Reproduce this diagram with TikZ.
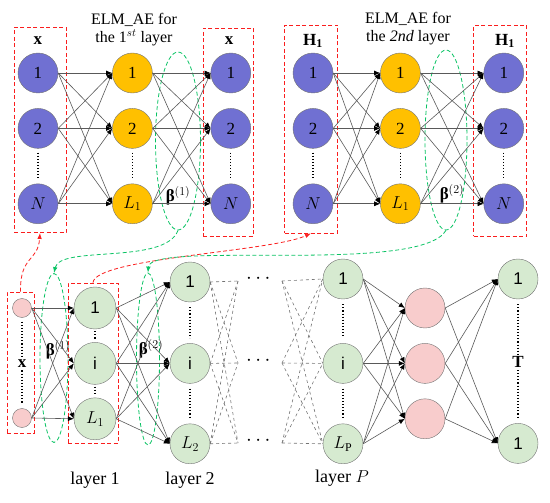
\documentclass[tikz,border=0pt]{standalone}
\usepackage{amsmath}
\usepackage{fontspec}
\setmainfont{Liberation Serif}
\newfontfamily\arialfont{Liberation Sans}
\usepackage{tikz}
\usetikzlibrary{shapes.geometric, arrows.meta, positioning, calc}
\definecolor{myBlue}{RGB}{112, 112, 210}
\definecolor{myGold}{RGB}{255, 192, 0}
\definecolor{myMint}{RGB}{214, 234, 208}
\definecolor{myPink}{RGB}{248, 204, 204}
\definecolor{myRed}{RGB}{250, 30, 30}
\definecolor{myGreen}{RGB}{10, 195, 100}
\newcommand{\betaw}[1]{{\bfseries β}$^{(#1)}$}

\begin{document}
\begin{tikzpicture}[
            x=1pt, y=-1pt,
            font=\fontsize{17}{19}\selectfont,
            >={Latex[length=6pt, width=5pt, color=black]},
            % Styles
            unit/.style={
                circle, draw=black!55, thin, minimum size=40pt, inner sep=0pt
            },
            visunit/.style={unit, fill=myBlue},
            hidunit/.style={unit, fill=myGold},
            deepunit/.style={unit, fill=myMint, font=\arialfont\fontsize{17}{19}\selectfont},
            pinkunit/.style={unit, fill=myPink},
            redbox/.style={draw=myRed, dash pattern=on 4pt off 2.5pt, thick, inner sep=0pt},
            loopell/.style={ellipse, draw=myGreen, dash pattern=on 4pt off 2.5pt, thick, inner sep=0pt},
            link/.style={->, draw=black!65, line width=0.6pt},
            fan/.style={draw=black!55, dashed, line width=0.6pt},
            dotline/.style={dotted, line width=1.1pt},
            feedred/.style={-{Latex[length=6pt, width=4.5pt]}, draw=myRed, dash pattern=on 4pt off 2.5pt, thick},
            feedgreen/.style={-{Latex[length=6pt, width=4.5pt]}, draw=myGreen, dash pattern=on 4pt off 2.5pt, thick}
        ]
            \useasboundingbox (0,0) rectangle (550,503);

            % --- ELM_AE, 1st layer ---
            \node[align=center, font=\fontsize{16}{18}\selectfont] (titleA) at (134,30) {ELM\_AE for\\the 1$^{st}$ layer};

            \node[redbox, minimum width=52pt, minimum height=205pt] (boxA) at (40,130) {};
            \node (xinA) at (38,41) {$\mathbf{x}$};
            \node[visunit] (inA1) at (38,73) {1};
            \node[visunit, below=15pt of inA1] (inA2) {2};
            \node[visunit, below=35pt of inA2] (inAN) {$N$};

            \node[hidunit, right=54pt of inA1] (hA1) {1};
            \node[hidunit, right=54pt of inA2] (hA2) {2};
            \node[hidunit, right=54pt of inAN] (hAL) {$L_1$};

            \node[loopell, minimum width=45pt, minimum height=178pt] (elA) at (178,141) {};
            \node (betaA) at (178,196) {\betaw{1}};

            \node[redbox, minimum width=50pt, minimum height=208pt] (boxA2) at (228,132) {};
            \node (xoutA) at (229,41) {$\mathbf{x}$};
            \node[visunit, right=58pt of hA1] (outA1) {1};
            \node[visunit, right=58pt of hA2] (outA2) {2};
            \node[visunit, right=58pt of hAL] (outAN) {$N$};

            % --- ELM_AE, 2nd layer ---
            \node[align=center, font=\fontsize{16}{18}\selectfont] (titleB) at (408,29) {ELM\_AE for\\the \textit{2nd} layer};

            \node[redbox, minimum width=53pt, minimum height=208pt] (boxB) at (311,129) {};
            \node (hinB) at (313,41) {$\mathbf{H}_\mathbf{1}$};
            \node[visunit] (inB1) at (313,73) {1};
            \node[visunit, below=15pt of inB1] (inB2) {2};
            \node[visunit, below=35pt of inB2] (inBN) {$N$};

            \node[hidunit, right=47pt of inB1] (hB1) {1};
            \node[hidunit, right=47pt of inB2] (hB2) {2};
            \node[hidunit, right=47pt of inBN] (hBL) {$L_1$};

            \node[loopell, minimum width=42pt, minimum height=180pt] (elB) at (446,140) {};
            \node (betaB) at (452,194) {\betaw{2}};

            \node[redbox, minimum width=53pt, minimum height=211pt] (boxB2) at (500,131) {};
            \node (houtB) at (505,41) {$\mathbf{H}_\mathbf{1}$};
            \node[visunit, right=63pt of hB1] (outB1) {1};
            \node[visunit, right=63pt of hB2] (outB2) {2};
            \node[visunit, right=63pt of hBL] (outBN) {$N$};

            % --- Deep network ---
            \node[redbox, minimum width=27pt, minimum height=141pt] (bxIn) at (20.5,362.5) {};
            \node[pinkunit, minimum size=19pt] (x1) at (22,308) {};
            \node[pinkunit, minimum size=19pt] (x2) at (22,418) {};
            \node (xlab) at (22,364) {$\mathbf{x}$};

            \node[loopell, minimum width=28pt, minimum height=169pt] (elC1) at (54,358) {};
            \node (betaC1) at (58,350) {\betaw{1}};

            \node[redbox, minimum width=50pt, minimum height=160pt] (bx1) at (93,363) {};
            \node[deepunit, minimum size=42pt] (l1a) at (95,308) {1};
            \node[deepunit, minimum size=42pt, below=13pt of l1a] (l1b) {i};
            \node[deepunit, minimum size=42pt, below=13pt of l1b] (l1c) {$L_1$};

            \node[loopell, minimum width=23pt, minimum height=172pt] (elC2) at (148,359) {};
            \node (betaC2) at (151,349) {\betaw{2}};

            \node[deepunit] (l2a) at (190,282) {1};
            \node[deepunit, below=41pt of l2a] (l2b) {i};
            \node[deepunit, below=40pt of l2b] (l2c) {$L_2$};

            \coordinate (fa1) at (238,281);
            \coordinate (fa2) at (238,363);
            \coordinate (fa3) at (238,443);
            \node[font=\fontsize{20}{20}\selectfont] (gap1) at (260,279) {$\cdots$};
            \node[font=\fontsize{20}{20}\selectfont] (gap2) at (260,361) {$\cdots$};
            \node[font=\fontsize{20}{20}\selectfont] (gap3) at (260,441) {$\cdots$};
            \coordinate (fb1) at (282,281);
            \coordinate (fb2) at (282,363);
            \coordinate (fb3) at (282,443);

            \node[deepunit] (lp1) at (343,279) {1};
            \node[deepunit, below=44pt of lp1] (lp2) {i};
            \node[deepunit, below=40pt of lp2] (lp3) {$L_\mathrm{P}$};

            \node[pinkunit] (hp1) at (425,308) {};
            \node[pinkunit, below=15pt of hp1] (hp2) {};
            \node[pinkunit, below=15pt of hp2] (hp3) {};

            \node[deepunit] (o1) at (518,279) {1};
            \node[deepunit, below=124pt of o1] (o2) {1};
            \node (tlab) at (518,362) {$\mathbf{T}$};

            \node[font=\fontsize{18}{20}\selectfont] (lay1) at (95,480) {layer 1};
            \node[font=\fontsize{18}{20}\selectfont] (lay2) at (190,480) {layer 2};
            \node[font=\fontsize{18}{20}\selectfont] (layP) at (342,478) {layer $P$};

            % --- Dots ---
            \draw[dotline] ([yshift=-4pt]inA2.south) -- ([yshift=4pt]inAN.north);
            \draw[dotline] ([yshift=-4pt]hA2.south) -- ([yshift=4pt]hAL.north);
            \draw[dotline] ([yshift=-4pt]outA2.south) -- ([yshift=4pt]outAN.north);
            \draw[dotline] ([yshift=-4pt]inB2.south) -- ([yshift=4pt]inBN.north);
            \draw[dotline] ([yshift=-4pt]hB2.south) -- ([yshift=4pt]hBL.north);
            \draw[dotline] ([yshift=-4pt]outB2.south) -- ([yshift=4pt]outBN.north);
            \draw[dotline] ([yshift=-4pt]x1.south) -- ([yshift=-1pt]xlab.north);
            \draw[dotline] ([yshift=1pt]xlab.south) -- ([yshift=4pt]x2.north);
            \draw[dotline] ([yshift=-2pt]l1a.south) -- ([yshift=2pt]l1b.north);
            \draw[dotline] ([yshift=-2pt]l1b.south) -- ([yshift=2pt]l1c.north);
            \draw[dotline] ([yshift=-5pt]l2a.south) -- ([yshift=5pt]l2b.north);
            \draw[dotline] ([yshift=-5pt]l2b.south) -- ([yshift=5pt]l2c.north);
            \draw[dotline] ([yshift=-5pt]lp1.south) -- ([yshift=5pt]lp2.north);
            \draw[dotline] ([yshift=-5pt]lp2.south) -- ([yshift=5pt]lp3.north);
            \draw[dotline] ([yshift=-5pt]o1.south) -- ([yshift=-1pt]tlab.north);
            \draw[dotline] ([yshift=1pt]tlab.south) -- ([yshift=5pt]o2.north);

            % --- Connections ---
            \foreach \a in {inA1,inA2,inAN}{\foreach \b in {hA1,hA2,hAL}{\draw[link] (\a.east) -- (\b.west);}}
            \foreach \a in {hA1,hA2,hAL}{\foreach \b in {outA1,outA2,outAN}{\draw[link] (\a.east) -- (\b.west);}}
            \foreach \a in {inB1,inB2,inBN}{\foreach \b in {hB1,hB2,hBL}{\draw[link] (\a.east) -- (\b.west);}}
            \foreach \a in {hB1,hB2,hBL}{\foreach \b in {outB1,outB2,outBN}{\draw[link] (\a.east) -- (\b.west);}}

            \foreach \a in {x1,x2}{\foreach \b in {l1a,l1b,l1c}{\draw[link] (\a.east) -- (\b.west);}}
            \foreach \a in {l1a,l1b,l1c}{\foreach \b in {l2a,l2b,l2c}{\draw[link] (\a.east) -- (\b.west);}}
            \foreach \a in {l2a,l2b,l2c}{\foreach \b in {fa1,fa2,fa3}{\draw[fan] (\a.east) -- (\b);}}
            \foreach \a in {fb1,fb2,fb3}{\foreach \b in {lp1,lp2,lp3}{\draw[fan] (\a) -- (\b.west);}}
            \foreach \a in {lp1,lp2,lp3}{\foreach \b in {hp1,hp2,hp3}{\draw[link] (\a.east) -- (\b.west);}}
            \foreach \a in {hp1,hp2,hp3}{\foreach \b in {o1,o2}{\draw[link] (\a.east) -- (\b.west);}}

            % --- Feedback curves ---
            \draw[feedred] (bxIn.north) .. controls (20,255) and (38,262) .. (boxA.south);
            \draw[feedred] (bx1.north) .. controls (95,258) and (270,252) .. (boxB.south);
            \draw[feedgreen] (elA.south) .. controls (165,265) and (60,245) .. (elC1.north);
            \draw[feedgreen] (elB.south) .. controls (420,275) and (150,240) .. (elC2.north);

        \end{tikzpicture}
\end{document}
